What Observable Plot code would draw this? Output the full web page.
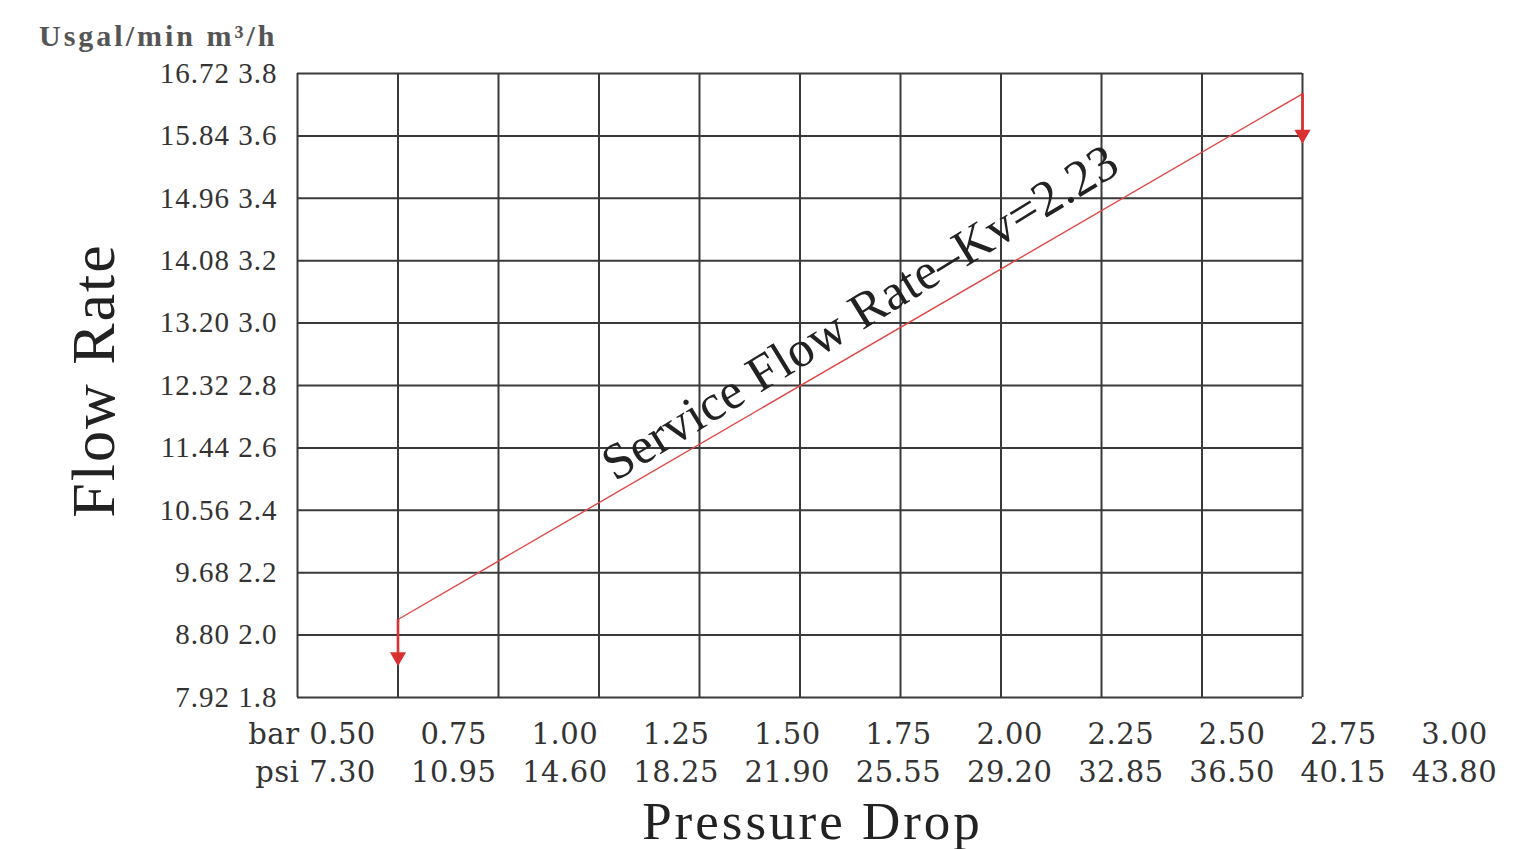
<!DOCTYPE html>
<html>
<head>
<meta charset="utf-8">
<script src="https://cdn.jsdelivr.net/npm/d3@7"></script>
<script src="https://cdn.jsdelivr.net/npm/@observablehq/plot@0.6"></script>
<style>
  html, body { margin: 0; padding: 0; background: #ffffff; }
  #chart svg { display: block; }
</style>
</head>
<body>
<div id="chart"></div>
<script>
// Y axis: flow rate (m³/h) and matching US gal/min labels
const flowM3 = [1.8, 2.0, 2.2, 2.4, 2.6, 2.8, 3.0, 3.2, 3.4, 3.6, 3.8];
const flowGal = ["7.92", "8.80", "9.68", "10.56", "11.44", "12.32", "13.20", "14.08", "14.96", "15.84", "16.72"];

// X axis: pressure drop (bar) and matching psi labels
const barTicks = [0.5, 0.75, 1.0, 1.25, 1.5, 1.75, 2.0, 2.25, 2.5, 2.75, 3.0];
const barLabels = ["0.50", "0.75", "1.00", "1.25", "1.50", "1.75", "2.00", "2.25", "2.50", "2.75", "3.00"];
const psiLabels = ["7.30", "10.95", "14.60", "18.25", "21.90", "25.55", "29.20", "32.85", "36.50", "40.15", "43.80"];

// Service flow line (bar, m³/h)
const lineBar = [0.75, 3.0];
const lineFlow = [2.05, 3.735];

// Red down arrows at each end of the line
const arrowBar = [0.75, 3.0];
const arrowFrom = [2.05, 3.735];
const arrowHead = [1.93, 3.605];

const curveLabel = ["Service Flow Rate\u2013Kv=2.23"];
const yTitle = ["Flow Rate"];
const yUnits = ["Usgal/min m\u00b3/h"];
const xTitle = ["Pressure Drop"];
const xUnits = ["bar", "psi"];

const lineData = lineBar.map((x, i) => ({x, y: lineFlow[i]}));
const arrowData = arrowBar.map((x, i) => ({x, y1: arrowFrom[i], y2: arrowHead[i]}));
const labelData = curveLabel.map(t => ({
  t, x: (lineBar[0] + lineBar[1]) / 2, y: (lineFlow[0] + lineFlow[1]) / 2
}));

const font = "'Liberation Serif', 'Times New Roman', serif";
const wideFont = "'DejaVu Serif', serif";
const gridColor = "#3a3a3a";
const red = "#d93030";

const main = Plot.plot({
  width: 1514,
  height: 712,
  marginLeft: 297,
  marginRight: 212,
  marginTop: 73,
  marginBottom: 15,
  style: {fontFamily: font, background: "white", color: "#333"},
  x: {domain: [0.5, 3.0], axis: null},
  y: {domain: [1.8, 3.8], axis: null},
  marks: [
    Plot.gridX(barTicks, {stroke: gridColor, strokeOpacity: 1, strokeWidth: 2}),
    Plot.gridY(flowM3, {stroke: gridColor, strokeOpacity: 1, strokeWidth: 2}),
    Plot.axisY(flowM3, {
      anchor: "left", tickSize: 0, tickPadding: 20, fontSize: 29, fill: "#333",
      tickFormat: d => flowGal[flowM3.indexOf(d)] + " " + d.toFixed(1),
      label: null
    }),
    Plot.line(lineData, {x: "x", y: "y", stroke: "#e04848", strokeWidth: 1.4}),
    Plot.ruleX(arrowData, {x: "x", y1: "y1", y2: "y2", stroke: red, strokeWidth: 2.6}),
    Plot.dot(arrowData, {x: "x", y: "y2", symbol: "triangle", r: 6, rotate: 180, fill: red, stroke: "none"}),
    Plot.text(labelData, {
      x: "x", y: "y", text: "t", rotate: -31.5, fontSize: 51, fill: "#222",
      textAnchor: "middle", lineAnchor: "middle", dx: 10, dy: -44
    }),
    Plot.text(yTitle, {
      frameAnchor: "left", textAnchor: "middle", lineAnchor: "middle",
      rotate: -90, dx: -203, dy: -5, fontSize: 62, fill: "#222"
    }),
    Plot.text(yUnits, {
      frameAnchor: "top-left", textAnchor: "end", lineAnchor: "middle",
      dx: -20, dy: -37, fontSize: 30, fontWeight: "bold", fill: "#555"
    })
  ]
});

const bottom = Plot.plot({
  width: 1514,
  height: 137,
  marginLeft: 302,
  marginRight: 0,
  marginTop: 0,
  marginBottom: 0,
  style: {fontFamily: font, background: "white", color: "#333"},
  x: {domain: [0.5, 3.0], range: [340, 1452], axis: null},
  marks: [
    Plot.text(barTicks, {
      x: d => d, text: d => barLabels[barTicks.indexOf(d)],
      frameAnchor: "top", lineAnchor: "middle", dx: 2, dy: 22, fontSize: 29, fontFamily: wideFont, fill: "#333"
    }),
    Plot.text(barTicks, {
      x: d => d, text: d => psiLabels[barTicks.indexOf(d)],
      frameAnchor: "top", lineAnchor: "middle", dx: 2, dy: 60, fontSize: 29, fontFamily: wideFont, fill: "#333"
    }),
    Plot.text([xUnits[0]], {
      frameAnchor: "top-left", textAnchor: "end", lineAnchor: "middle",
      dx: -3, dy: 22, fontSize: 29, fontFamily: wideFont, fill: "#333"
    }),
    Plot.text([xUnits[1]], {
      frameAnchor: "top-left", textAnchor: "end", lineAnchor: "middle",
      dx: -3, dy: 60, fontSize: 29, fontFamily: wideFont, fill: "#333"
    }),
    Plot.text(xTitle, {
      frameAnchor: "top", textAnchor: "middle", lineAnchor: "middle",
      dx: -96, dy: 110, fontSize: 53, fill: "#222"
    })
  ]
});

document.getElementById("chart").append(main, bottom);

// Letter spacing to match the stretched lettering of the original
const spacedX = new Set([...barLabels, ...psiLabels, ...xUnits]);
d3.selectAll("#chart text").each(function() {
  const t = this.textContent;
  let s = null;
  if (spacedX.has(t)) s = "0.5px";
  else if (xTitle.includes(t)) s = "3px";
  else if (yTitle.includes(t)) s = "2px";
  else if (yUnits.includes(t)) s = "3px";
  else if (curveLabel.includes(t)) s = "0.5px";
  else if (/^\d+\.\d+ \d\.\d$/.test(t)) s = "1px";
  if (s) this.style.letterSpacing = s;
});
</script>
</body>
</html>
